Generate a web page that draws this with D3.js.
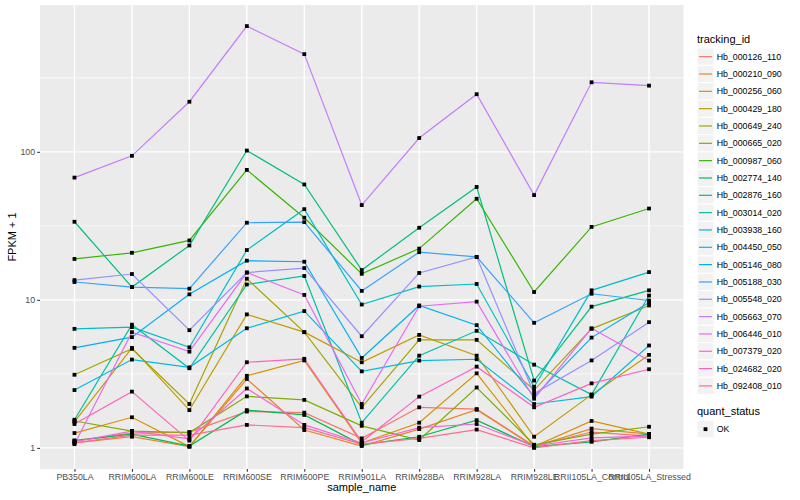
<!DOCTYPE html>
<html><head><meta charset="utf-8">
<script src="https://cdn.jsdelivr.net/npm/d3@7"></script>
<style>
body{margin:0;background:#fff}
svg{display:block}
text{font-family:"Liberation Sans",Arial,Helvetica,sans-serif}
</style>
</head><body>
<svg id="chart" width="800" height="500"></svg>
<script>
// ---- data ----
const categories = ["PB350LA","RRIM600LA","RRIM600LE","RRIM600SE","RRIM600PE","RRIM901LA","RRIM928BA","RRIM928LA","RRIM928LE","RRII105LA_Control","RRII105LA_Stressed"];
const trackingIds = ["Hb_000126_110","Hb_000210_090","Hb_000256_060","Hb_000429_180","Hb_000649_240","Hb_000665_020","Hb_000987_060","Hb_002774_140","Hb_002876_160","Hb_003014_020","Hb_003938_160","Hb_004450_050","Hb_005146_080","Hb_005188_030","Hb_005548_020","Hb_005663_070","Hb_006446_010","Hb_007379_020","Hb_024682_020","Hb_092408_010"];
const seriesColors = ["#F8766D","#EA8331","#D89000","#C09B00","#A3A500","#7CAE00","#39B600","#00BB4E","#00BF7D","#00C1A3","#00BFC4","#00BAE0","#00B0F6","#35A2FF","#9590FF","#C77CFF","#E76BF3","#FA62DB","#FF62BC","#FF6C90"];
const yTickValues = [1, 10, 100];
const quantStatus = ["OK"];

const Hb_000126_110 = [1.12, 1.26, 1.28, 1.76, 1.73, 1.16, 1.88, 1.83, 1.03, 1.28, 1.20];
const Hb_000210_090 = [1.08, 1.19, 1.02, 2.92, 1.32, 1.03, 1.34, 1.81, 1.02, 1.35, 1.24];
const Hb_000256_060 = [1.26, 1.61, 1.02, 3.07, 3.90, 1.08, 1.48, 3.19, 1.02, 1.52, 1.24];
const Hb_000429_180 = [1.50, 4.74, 1.80, 7.98, 6.05, 3.79, 5.80, 4.20, 1.19, 2.29, 4.25];
const Hb_000649_240 = [3.12, 4.67, 1.98, 13.9, 6.05, 1.88, 5.37, 5.37, 2.46, 6.37, 9.17];
const Hb_000665_020 = [1.52, 1.30, 1.27, 2.23, 2.11, 1.41, 1.13, 2.56, 1.05, 1.24, 1.39];
const Hb_000987_060 = [18.9, 20.8, 25.2, 75.5, 35.9, 15.0, 22.2, 48.2, 11.3, 31.1, 41.4];
const Hb_002774_140 = [1.12, 1.24, 1.03, 1.80, 1.67, 1.05, 1.19, 1.54, 1.02, 1.10, 1.24];
const Hb_002876_160 = [33.7, 12.2, 23.3, 102, 60.2, 15.9, 30.7, 57.9, 2.85, 9.0, 11.6];
const Hb_003014_020 = [1.55, 6.80, 3.45, 12.7, 14.5, 1.48, 4.20, 6.18, 3.65, 2.29, 10.7];
const Hb_003938_160 = [6.37, 6.55, 4.78, 21.7, 41.0, 9.30, 12.3, 12.8, 2.59, 11.6, 15.4];
const Hb_004450_050 = [2.46, 3.95, 3.50, 6.43, 8.40, 3.29, 3.89, 3.97, 1.98, 2.22, 4.92];
const Hb_005146_080 = [4.74, 5.60, 10.9, 18.4, 18.1, 4.05, 9.17, 6.75, 2.22, 5.56, 9.6];
const Hb_005188_030 = [13.2, 12.2, 11.9, 33.2, 33.5, 11.5, 21.0, 19.5, 7.0, 11.0, 9.9];
const Hb_005548_020 = [13.6, 14.95, 6.24, 15.3, 16.4, 5.68, 15.2, 19.5, 2.33, 3.9, 7.07];
const Hb_005663_070 = [67, 94, 218, 707, 457, 43.7, 124, 245, 51, 295, 280];
const Hb_006446_010 = [1.06, 6.05, 4.47, 15.3, 10.8, 1.98, 9.06, 9.73, 2.15, 6.43, 3.89];
const Hb_007379_020 = [1.10, 1.30, 1.15, 2.52, 1.43, 1.08, 1.37, 1.45, 1.03, 1.17, 1.20];
const Hb_024682_020 = [1.45, 2.40, 1.12, 3.79, 4.00, 1.10, 2.22, 3.54, 1.88, 2.73, 3.40];
const Hb_092408_010 = [1.08, 1.22, 1.22, 1.43, 1.37, 1.06, 1.16, 1.33, 1.00, 1.12, 1.18];

const seriesValues = [Hb_000126_110,Hb_000210_090,Hb_000256_060,Hb_000429_180,Hb_000649_240,Hb_000665_020,Hb_000987_060,Hb_002774_140,Hb_002876_160,Hb_003014_020,Hb_003938_160,Hb_004450_050,Hb_005146_080,Hb_005188_030,Hb_005548_020,Hb_005663_070,Hb_006446_010,Hb_007379_020,Hb_024682_020,Hb_092408_010];

const series = trackingIds.map((id, i) => ({
  id, color: seriesColors[i],
  points: categories.map((c, j) => ({cat: c, v: seriesValues[i][j]}))
}));

// ---- layout ----
const panel = {left: 40, right: 683.5, top: 5, bottom: 469};
const svg = d3.select("#chart");
svg.append("rect").attr("width", 800).attr("height", 500).attr("fill", "#fff");

const x = d3.scalePoint().domain(categories).range([panel.left, panel.right]).padding(0.6);
const allV = seriesValues.flat();
const lo = Math.log10(d3.min(allV)), hi = Math.log10(d3.max(allV));
const pad = (hi - lo) * 0.05;
const y = d3.scaleLog().domain([10 ** (lo - pad), 10 ** (hi + pad)]).range([panel.bottom, panel.top]);

// panel
svg.append("rect").attr("x", panel.left).attr("y", panel.top)
  .attr("width", panel.right - panel.left).attr("height", panel.bottom - panel.top)
  .attr("fill", "#EBEBEB");

const grid = svg.append("g");
const minorTicks = [-1, 0, 1, 2, 3].map(k => 10 ** (k + 0.5)).filter(v => v > y.domain()[0] && v < y.domain()[1]);
grid.selectAll(".minor").data(minorTicks).join("line")
  .attr("x1", panel.left).attr("x2", panel.right)
  .attr("y1", d => y(d)).attr("y2", d => y(d))
  .attr("stroke", "#fff").attr("stroke-width", 0.7);
grid.selectAll(".majorY").data(yTickValues).join("line")
  .attr("x1", panel.left).attr("x2", panel.right)
  .attr("y1", d => y(d)).attr("y2", d => y(d))
  .attr("stroke", "#fff").attr("stroke-width", 1.4);
grid.selectAll(".majorX").data(categories).join("line")
  .attr("x1", d => x(d)).attr("x2", d => x(d))
  .attr("y1", panel.top).attr("y2", panel.bottom)
  .attr("stroke", "#fff").attr("stroke-width", 1.4);

// lines
const line = d3.line().x(d => x(d.cat)).y(d => y(d.v));
const plot = svg.append("g");
plot.selectAll(".ser").data(series).join("path")
  .attr("d", d => line(d.points))
  .attr("fill", "none").attr("stroke", d => d.color).attr("stroke-width", 1.2);

// points
const ps = 3.8;
plot.selectAll(".pt").data(series.flatMap(s => s.points)).join("rect")
  .attr("x", d => x(d.cat) - ps / 2).attr("y", d => y(d.v) - ps / 2)
  .attr("width", ps).attr("height", ps).attr("fill", "#000");

// axes
const xAxis = svg.append("g").attr("transform", `translate(0,${panel.bottom})`)
  .call(d3.axisBottom(x).tickSize(2.75).tickPadding(2.2));
const yAxis = svg.append("g").attr("transform", `translate(${panel.left},0)`)
  .call(d3.axisLeft(y).tickValues(yTickValues).tickFormat(d3.format("d")).tickSize(2.75).tickPadding(2.2));
[xAxis, yAxis].forEach(a => {
  a.select(".domain").remove();
  a.selectAll(".tick line").attr("stroke", "#333333").attr("stroke-width", 1.07);
  a.selectAll(".tick text").attr("fill", "#4D4D4D").style("font-size", "8.8px")
    .style("font-family", '"Liberation Sans",Arial,Helvetica,sans-serif');
});

svg.append("text").attr("x", (panel.left + panel.right) / 2).attr("y", 491)
  .attr("text-anchor", "middle").style("font-size", "11px").attr("fill", "#000").text("sample_name");
svg.append("text").attr("transform", `translate(16,${(panel.top + panel.bottom) / 2}) rotate(-90)`)
  .attr("text-anchor", "middle").style("font-size", "11px").attr("fill", "#000").text("FPKM + 1");

// legend
const lg = svg.append("g");
const keyX = 697, keyW = 17, keyH = 17.33, key0 = 48;
lg.append("text").attr("x", keyX).attr("y", 43).style("font-size", "11px").attr("fill", "#000").text("tracking_id");
const items = lg.selectAll(".item").data(series).join("g")
  .attr("transform", (d, i) => `translate(${keyX},${key0 + i * keyH})`);
items.append("rect").attr("width", keyW).attr("height", keyH)
  .attr("fill", "#F2F2F2").attr("stroke", "#fff").attr("stroke-width", 1);
items.append("line").attr("x1", 2).attr("x2", keyW - 2).attr("y1", keyH / 2).attr("y2", keyH / 2)
  .attr("stroke", d => d.color).attr("stroke-width", 1.2);
items.append("text").attr("x", keyW + 2.7).attr("y", keyH / 2).attr("dy", "0.35em")
  .style("font-size", "8.8px").attr("fill", "#000").text(d => d.id);

lg.append("text").attr("x", keyX).attr("y", 415).style("font-size", "11px").attr("fill", "#000").text("quant_status");
const qi = lg.selectAll(".q").data(quantStatus).join("g").attr("transform", (d, i) => `translate(${keyX},${420.5 + i * keyH})`);
qi.append("rect").attr("width", keyW).attr("height", keyH).attr("fill", "#F2F2F2").attr("stroke", "#fff");
qi.append("rect").attr("x", keyW / 2 - ps / 2).attr("y", keyH / 2 - ps / 2).attr("width", ps).attr("height", ps).attr("fill", "#000");
qi.append("text").attr("x", keyW + 2.7).attr("y", keyH / 2).attr("dy", "0.35em")
  .style("font-size", "8.8px").attr("fill", "#000").text(d => d);
</script>
</body></html>
